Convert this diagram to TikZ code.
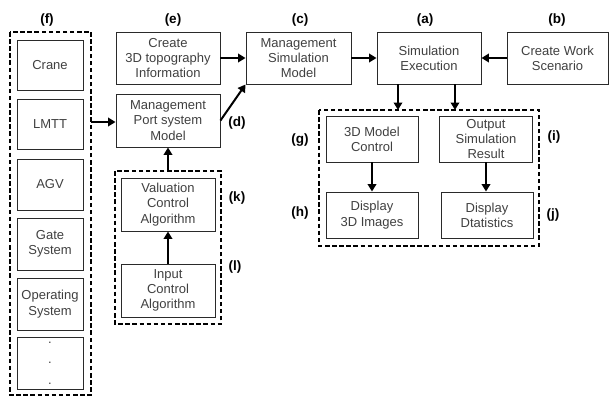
\documentclass[tikz,border=0pt]{standalone}
\usepackage{fontspec}
\setmainfont{Liberation Sans}
\usetikzlibrary{arrows.meta}
\definecolor{ink}{HTML}{2A2A2A}
\definecolor{txt}{HTML}{404040}
\begin{document}
\begin{tikzpicture}[x=1pt,y=-1pt,
  box/.style={draw=ink, line width=0.9pt, rectangle, align=center, text=txt,
    inner sep=0pt, font=\fontsize{13}{15.3}\selectfont},
  group/.style={draw=black, line width=1.9pt, dash pattern=on 4.5pt off 2.6pt},
  arr/.style={draw=black, line width=2pt, -{Triangle[length=7.5pt,width=8.5pt]}},
  tag/.style={font=\fontsize{13.5}{15}\selectfont\bfseries, text=black, inner sep=0pt}]
\useasboundingbox (0,0) rectangle (610,397);

% component column
\node[box, minimum width=66pt, minimum height=50pt] (crane) at (50,65.5) {Crane};
\node[box, minimum width=66pt, minimum height=50pt] (lmtt) at (50,124) {LMTT};
\node[box, minimum width=66pt, minimum height=51pt] (agv) at (50,184.5) {AGV};
\node[box, minimum width=66pt, minimum height=52pt] (gate) at (50,244) {Gate\\System};
\node[box, minimum width=66pt, minimum height=52pt] (opsys) at (50,304) {Operating\\System};
\node[box, minimum width=66pt, minimum height=52pt] (more) at (50,363) {.\\[5pt].\\[5pt].};
\draw[group] (10,32) rectangle (91,395);
\coordinate (colE) at (91,122);

% modelling boxes
\node[box, minimum width=104pt, minimum height=52pt] (topo) at (168,58) {Create\\3D topography\\Information};
\node[box, minimum width=104pt, minimum height=53pt] (port) at (168,120.5) {Management\\Port system\\Model};
\node[box, minimum width=105pt, minimum height=52pt] (msim) at (298.5,58) {Management\\Simulation\\Model};
\node[box, minimum width=104pt, minimum height=52pt] (exec) at (429,58) {Simulation\\Execution};
\node[box, minimum width=101pt, minimum height=52pt] (work) at (557.5,58) {Create Work\\Scenario};

% control algorithms
\node[box, minimum width=94pt, minimum height=53pt] (val) at (168,204.5) {Valuation\\Control\\Algorithm};
\node[box, minimum width=94pt, minimum height=53pt] (inp) at (168,290.5) {Input\\Control\\Algorithm};
\draw[group] (115,171) rectangle (221,324);
\coordinate (klN) at (168,171);

% output group
\node[box, minimum width=92pt, minimum height=46pt] (mctl) at (372,139) {3D Model\\Control};
\node[box, minimum width=93pt, minimum height=46pt] (out) at (486,139) {Output\\Simulation\\Result};
\node[box, minimum width=92pt, minimum height=46pt] (d3d) at (372,215) {Display\\3D Images};
\node[box, minimum width=92pt, minimum height=46pt] (dstat) at (487,215) {Display\\Dtatistics};
\draw[group] (319,110) rectangle (539,246);
\coordinate (gjL) at (398,110);
\coordinate (gjR) at (455,110);

% connectors
\draw[arr] (colE) -- (port.west |- colE);
\draw[arr] (klN) -- (port.south);
\draw[arr] (inp.north) -- (val.south);
\draw[arr] (topo.east) -- (msim.west);
\draw[arr] (port.east) -- (msim.south west);
\draw[arr] (msim.east) -- (exec.west);
\draw[arr] (work.west) -- (exec.east);
\draw[arr] (exec.south -| gjL) -- (gjL);
\draw[arr] (exec.south -| gjR) -- (gjR);
\draw[arr] (mctl.south) -- (d3d.north);
\draw[arr] (out.south) -- (dstat.north -| out.south);

% labels
\node[tag] (tf) at (47,20) {(f)};
\node[tag] (te) at (173,20) {(e)};
\node[tag] (tc) at (300,20) {(c)};
\node[tag] (ta) at (425,20) {(a)};
\node[tag] (tb) at (557,20) {(b)};
\node[tag] (td) at (237,123) {(d)};
\node[tag] (tg) at (300,140) {(g)};
\node[tag] (th) at (300,213) {(h)};
\node[tag] (ti) at (554,137) {(i)};
\node[tag] (tj) at (553,215) {(j)};
\node[tag] (tk) at (237,198) {(k)};
\node[tag] (tl) at (235,267) {(l)};
\end{tikzpicture}
\end{document}
